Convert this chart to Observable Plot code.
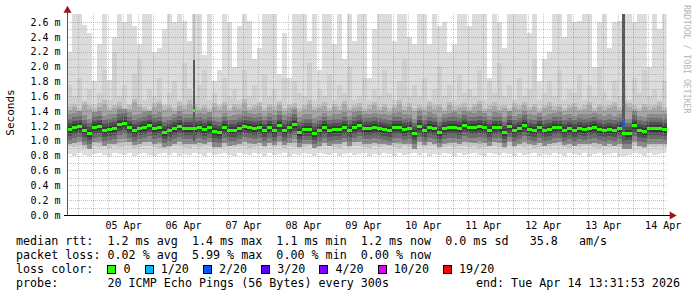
<!DOCTYPE html>
<html><head><meta charset="utf-8">
<script src="https://cdn.jsdelivr.net/npm/d3@7"></script>
<script src="https://cdn.jsdelivr.net/npm/@observablehq/plot@0.6"></script>
<style>
body{margin:0;background:#fff}
#wrap{position:relative;width:697px;height:297px;overflow:hidden;background:#fff}
#chart{position:absolute;left:0;top:0}
.lg{position:absolute;left:16px;font-family:"DejaVu Sans Mono",monospace;font-size:11.7px;line-height:14px;white-space:pre;color:#000}
.box{display:inline-block;width:7px;height:7px;border:1px solid #000;vertical-align:-1px}
#ylab{position:absolute;left:-20px;top:106px;width:60px;text-align:center;transform:rotate(-90deg);font-family:"DejaVu Sans Mono",monospace;font-size:11px}
#wm{position:absolute;left:682px;top:5px;writing-mode:vertical-rl;font-family:"DejaVu Sans Mono",monospace;font-size:8.2px;color:#b4b4b4}
</style></head><body>
<div id="wrap">
<div id="chart"></div>
<div id="ylab">Seconds</div>
<div id="wm">RRDTOOL / TOBI OETIKER</div>
<div class="lg" id="l1" style="top:234px"></div>
<div class="lg" id="l2" style="top:248px"></div>
<div class="lg" id="l3" style="top:262px"></div>
<div class="lg" id="l4" style="top:276px"></div>
<div class="lg" id="l5" style="top:276px;left:auto;right:17px"></div>
</div>
<script>
// ---- data (ms) ----
const startTime = "2026-04-04T13:31:53";
const endTime = "2026-04-14T13:31:53";
const binHours = 2;
const medRtt = [1.16,1.18,1.20,1.15,1.10,1.19,1.20,1.14,1.16,1.17,
 1.23,1.235,1.19,1.15,1.17,1.19,1.21,1.17,1.19,1.12,
 1.145,1.17,1.20,1.17,1.17,1.17,1.18,1.16,1.19,1.13,
 1.12,1.18,1.145,1.15,1.17,1.20,1.18,1.17,1.18,1.14,
 1.18,1.15,1.21,1.15,1.18,1.23,1.12,1.16,1.16,1.11,
 1.145,1.18,1.145,1.16,1.16,1.19,1.14,1.19,1.21,1.17,
 1.17,1.18,1.17,1.16,1.15,1.18,1.19,1.16,1.17,1.10,
 1.20,1.15,1.19,1.17,1.12,1.17,1.18,1.19,1.17,1.21,
 1.19,1.18,1.20,1.18,1.14,1.19,1.18,1.12,1.20,1.145,
 1.17,1.21,1.16,1.15,1.18,1.145,1.16,1.18,1.19,1.15,
 1.17,1.14,1.17,1.16,1.17,1.18,1.16,1.14,1.16,1.14,
 1.17,1.10,1.10,1.21,1.145,1.13,1.17,1.17,1.17,1.16];
const maxRtt = [2.20,2.71,2.71,2.56,2.45,1.80,2.30,2.71,1.82,2.40,
 2.71,2.60,2.71,2.55,2.30,2.71,2.71,2.20,2.25,2.50,
 2.71,2.60,2.71,2.62,2.35,2.71,2.71,2.15,2.71,1.80,
 1.95,2.71,2.60,2.00,2.55,2.71,2.62,2.10,2.25,2.71,
 2.71,2.71,1.90,2.45,1.85,2.71,2.71,2.71,2.35,2.71,
 1.95,2.71,2.71,2.30,2.71,2.10,2.71,2.35,2.71,2.71,
 1.85,2.50,2.71,2.71,2.71,2.35,2.71,2.71,2.40,2.30,
 2.71,2.71,2.30,2.71,2.55,2.60,2.20,2.30,2.71,2.71,
 2.55,2.71,2.71,2.71,1.85,2.71,2.60,2.25,2.71,2.71,
 2.71,2.71,2.45,2.71,1.80,2.10,2.20,2.71,2.71,2.40,
 2.71,2.60,2.62,2.71,2.71,2.00,2.60,2.71,2.25,2.60,
 2.62,2.71,2.71,2.60,2.71,2.71,2.00,2.71,2.50,2.71];
const midRtt = [1.75,1.60,1.85,1.55,1.70,1.50,1.65,1.95,1.55,2.20,
 1.60,1.75,1.50,1.90,2.10,1.55,1.70,1.60,1.85,1.50,
 1.65,1.80,1.55,2.05,1.70,1.60,1.75,1.95,1.55,1.65,
 1.50,1.85,1.60,1.70,1.55,1.95,1.60,1.75,1.50,1.90,
 1.60,1.70,1.55,1.85,1.50,1.80,1.65,1.60,2.05,1.55,
 1.70,1.60,1.90,1.55,1.75,1.65,2.00,1.55,1.60,1.85,
 1.55,1.70,1.60,1.95,1.65,1.55,1.80,2.10,1.60,1.75,
 1.60,1.85,1.55,1.70,2.00,1.60,1.75,1.55,1.90,1.65,
 1.70,1.60,1.95,1.55,1.80,1.65,2.05,1.60,1.75,1.55,
 1.85,1.60,1.70,2.10,1.55,1.65,1.80,1.60,1.95,1.55,
 1.70,1.65,1.90,1.55,1.75,1.60,2.00,1.65,1.55,1.80,
 1.60,1.75,1.55,1.85,1.65,1.95,1.60,1.70,1.55,1.80];
const hiRtt = [1.42,1.45,1.40,1.48,1.43,1.39,1.46,1.50,1.41,1.44,
 1.47,1.40,1.43,1.52,1.45,1.41,1.38,1.46,1.49,1.42,
 1.44,1.40,1.47,1.43,1.50,1.45,1.41,1.44,1.39,1.46,
 1.42,1.48,1.40,1.45,1.43,1.51,1.41,1.44,1.47,1.40,
 1.45,1.42,1.48,1.40,1.44,1.46,1.39,1.43,1.50,1.41,
 1.44,1.47,1.40,1.45,1.42,1.49,1.41,1.44,1.46,1.40,
 1.43,1.48,1.41,1.45,1.39,1.44,1.50,1.42,1.46,1.40,
 1.44,1.41,1.47,1.43,1.45,1.40,1.48,1.42,1.44,1.46,
 1.41,1.45,1.49,1.40,1.43,1.47,1.42,1.44,1.40,1.46,
 1.43,1.48,1.41,1.45,1.39,1.44,1.47,1.42,1.45,1.40,
 1.44,1.46,1.41,1.43,1.48,1.40,1.45,1.42,1.44,1.47,
 1.41,1.50,1.46,1.43,1.40,1.45,1.42,1.44,1.47,1.41];
const loRtt = [0.96,0.95,0.97,0.94,0.93,0.96,0.95,0.97,0.94,0.96,
 0.95,0.97,0.96,0.94,0.95,0.96,0.97,0.95,0.94,0.93,
 0.95,0.96,0.97,0.95,0.94,0.96,0.95,0.96,0.97,0.94,
 0.93,0.95,0.96,0.95,0.97,0.96,0.94,0.95,0.96,0.95,
 0.96,0.95,0.97,0.94,0.96,0.95,0.93,0.95,0.96,0.94,
 0.95,0.97,0.96,0.95,0.94,0.96,0.95,0.97,0.96,0.95,
 0.94,0.96,0.95,0.97,0.96,0.95,0.94,0.96,0.95,0.93,
 0.96,0.95,0.97,0.96,0.94,0.95,0.96,0.95,0.97,0.96,
 0.95,0.96,0.94,0.95,0.97,0.96,0.95,0.94,0.96,0.95,
 0.96,0.95,0.97,0.94,0.95,0.96,0.95,0.97,0.96,0.95,
 0.94,0.96,0.95,0.96,0.97,0.95,0.94,0.96,0.95,0.96,
 0.95,0.93,0.94,0.96,0.95,0.94,0.96,0.95,0.96,0.95];
const minRtt = [0.82,0.80,0.83,0.81,0.79,0.82,0.84,0.81,0.80,0.83,
 0.82,0.81,0.84,0.80,0.82,0.83,0.81,0.79,0.82,0.84,
 0.81,0.83,0.80,0.82,0.81,0.84,0.82,0.80,0.83,0.81,
 0.82,0.84,0.81,0.80,0.83,0.82,0.81,0.84,0.82,0.80,
 0.83,0.81,0.82,0.84,0.80,0.82,0.81,0.83,0.82,0.80,
 0.84,0.82,0.81,0.83,0.80,0.82,0.84,0.81,0.82,0.83,
 0.80,0.82,0.81,0.84,0.82,0.80,0.83,0.81,0.82,0.84,
 0.81,0.83,0.80,0.82,0.81,0.84,0.82,0.80,0.83,0.81,
 0.82,0.84,0.81,0.80,0.83,0.82,0.81,0.84,0.82,0.80,
 0.83,0.81,0.82,0.84,0.80,0.82,0.81,0.83,0.82,0.80,
 0.84,0.82,0.81,0.83,0.80,0.82,0.84,0.81,0.82,0.83,
 0.80,0.79,0.81,0.84,0.82,0.80,0.83,0.81,0.82,0.84];
// narrow high-spread intervals
const spikeStart = ["2026-04-06T15:50:00","2026-04-13T19:40:00"];
const spikeEnd   = ["2026-04-06T16:50:00","2026-04-13T20:50:00"];
const spikeLo    = [1.00, 1.00];
const spikeHi    = [2.09, 2.71];
const spikeMed   = [1.41, 1.24];
const spikeLoss  = [0, 2];
// loss legend
const lossLabels = ["0","1/20","2/20","3/20","4/20","10/20","19/20"];
const lossColors = ["#26ff00","#00b8ff","#0059ff","#5e00ff","#7e00ff","#dd00ff","#ff0000"];
const lossSteps  = [0,1,2,3,4,10,19];
// y ticks (ms)
const yTicks = [0,0.2,0.4,0.6,0.8,1.0,1.2,1.4,1.6,1.8,2.0,2.2,2.4,2.6];
const dayLabelDates = ["2026-04-05","2026-04-06","2026-04-07","2026-04-08","2026-04-09","2026-04-10","2026-04-11","2026-04-12","2026-04-13","2026-04-14"];
// stats
const rttNames = ["avg","max","min","now"];
const rttVals = ["1.2","1.4","1.1","1.2"];
const rttSd = "0.0";
const amps = "35.8";
const lossNames = ["avg","max","min","now"];
const lossVals = ["0.02","5.99","0.00","0.00"];
const probeText = "20 ICMP Echo Pings (56 Bytes) every 300s";
const endText = "end: Tue Apr 14 13:31:53 2026";

// ---- build ----
const start = new Date(startTime), end = new Date(endTime);
const H = 3600e3;
const bins = medRtt.map((m, i) => ({
  t0: new Date(start.getTime() + i * binHours * H),
  t1: new Date(start.getTime() + (i + 1) * binHours * H),
  med: m, mx: maxRtt[i], mid: midRtt[i], hi: hiRtt[i], lo: loRtt[i], mn: minRtt[i]
}));
const spikes = spikeStart.map((s, i) => ({
  t0: new Date(s), t1: new Date(spikeEnd[i]), lo: spikeLo[i], hi: spikeHi[i], med: spikeMed[i],
  color: lossColors[lossSteps.indexOf(spikeLoss[i])]
}));
const noon = dayLabelDates.map(d => new Date(d + "T12:00:00"));
const midnights = d3.timeDay.range(d3.timeDay.ceil(start), end);
const sixHours = d3.timeHour.every(6).range(start, end).filter(d => d.getHours() !== 0);
const yMajor = yTicks.filter(v => v > 0);
const yMinor = yTicks.map(v => v + 0.1).filter(v => v < 2.7);
const ymax = 2.708;

const crisp = {shapeRendering: "crispEdges"};
const chart = Plot.plot({
  width: 697, height: 232,
  marginLeft: 67, marginRight: 30.5, marginTop: 14, marginBottom: 17,
  style: {fontFamily: "DejaVu Sans Mono, monospace", fontSize: "10px", background: "transparent", overflow: "visible", color: "#000"},
  x: {type: "time", domain: [start, end], ticks: noon, tickFormat: d3.timeFormat("%d %b"), tickSize: 0, tickPadding: 6, label: null},
  y: {domain: [0, ymax], ticks: yTicks, tickFormat: d => d.toFixed(1) + " m", tickSize: 0, tickPadding: 7, label: null},
  marks: [
    Plot.rect(bins, {x1: "t0", x2: "t1", y1: "mn", y2: "mx", fill: "#dcdcdc", inset: 0, clip: true, ...crisp}),
    Plot.rect(bins, {x1: "t0", x2: "t1", y1: "lo", y2: "mid", fill: "#cfcfcf", inset: 0, clip: true, ...crisp}),
    Plot.ruleY(bins, {x1: "t0", x2: "t1", y: "hi", stroke: "#bcbcbc", strokeWidth: 8, ...crisp}),
    Plot.rect(bins, {x1: "t0", x2: "t1", y1: "lo", y2: "hi", fill: "#a6a6a6", inset: 0, clip: true, ...crisp}),
    Plot.ruleY(bins, {x1: "t0", x2: "t1", y: "lo", stroke: "#c4c4c4", strokeWidth: 4, ...crisp}),
    Plot.ruleY(bins, {x1: "t0", x2: "t1", y: "med", stroke: "#8a8a8a", strokeWidth: 30, ...crisp}),
    Plot.ruleY(bins, {x1: "t0", x2: "t1", y: "med", stroke: "#6c6c6c", strokeWidth: 21, ...crisp}),
    Plot.ruleY(bins, {x1: "t0", x2: "t1", y: "med", stroke: "#505050", strokeWidth: 13, ...crisp}),
    Plot.ruleY(bins, {x1: "t0", x2: "t1", y: "med", stroke: "#383838", strokeWidth: 7, ...crisp}),
    Plot.rect(spikes, {x1: "t0", x2: "t1", y1: "lo", y2: ymax, fill: "#bdbdbd", inset: 0, clip: true, ...crisp}),
    Plot.rect(spikes, {x1: "t0", x2: "t1", y1: "lo", y2: "hi", fill: "#5a5a5a", inset: 0, clip: true, ...crisp}),
    // grid
    Plot.ruleX(sixHours, {stroke: "#9a9a9a", strokeOpacity: 0.55, strokeDasharray: "1,1", ...crisp}),
    Plot.ruleY(yMinor, {stroke: "#9a9a9a", strokeOpacity: 0.55, strokeDasharray: "1,1", ...crisp}),
    Plot.ruleX(midnights, {stroke: "#e00000", strokeOpacity: 0.32, strokeDasharray: "1,1", ...crisp}),
    Plot.ruleY(yMajor, {stroke: "#e00000", strokeOpacity: 0.32, strokeDasharray: "1,1", ...crisp}),
    // median
    Plot.ruleY(bins, {x1: "t0", x2: "t1", y: "med", stroke: lossColors[0], strokeWidth: 3, ...crisp}),
    Plot.ruleY(spikes, {x1: "t0", x2: "t1", y: "med", stroke: "color", strokeWidth: 3, ...crisp}),
    // axes
    Plot.ruleY([0], {stroke: "#000", insetLeft: -3, insetRight: -3, ...crisp}),
    Plot.ruleX([start], {stroke: "#555", insetTop: -3, ...crisp}),
    Plot.dot([0], {x: () => end, y: 0, symbol: "triangle", r: 3, fill: "#a01818", stroke: "none", rotate: 90, dx: 5}),
    Plot.dot([0], {x: () => start, y: ymax, symbol: "triangle", r: 3, fill: "#a01818", stroke: "none", dy: -4})
  ]
});
document.getElementById("chart").appendChild(chart);

// legend text
document.getElementById("l1").textContent =
  "median rtt:  " + rttVals.map((v, i) => v + " ms " + rttNames[i]).join("  ") + "  " + rttSd + " ms sd   " + amps + "   am/s";
document.getElementById("l2").textContent =
  "packet loss: " + lossVals.map((v, i) => v + " % " + lossNames[i]).join("  ");
const l3 = document.getElementById("l3");
l3.append("loss color:  ");
lossLabels.forEach((lab, i) => {
  const b = document.createElement("span");
  b.className = "box"; b.style.background = lossColors[i];
  l3.append(b, " " + lab + "  ");
});
document.getElementById("l4").textContent = "probe:       " + probeText;
document.getElementById("l5").textContent = endText;
</script>
</body></html>
